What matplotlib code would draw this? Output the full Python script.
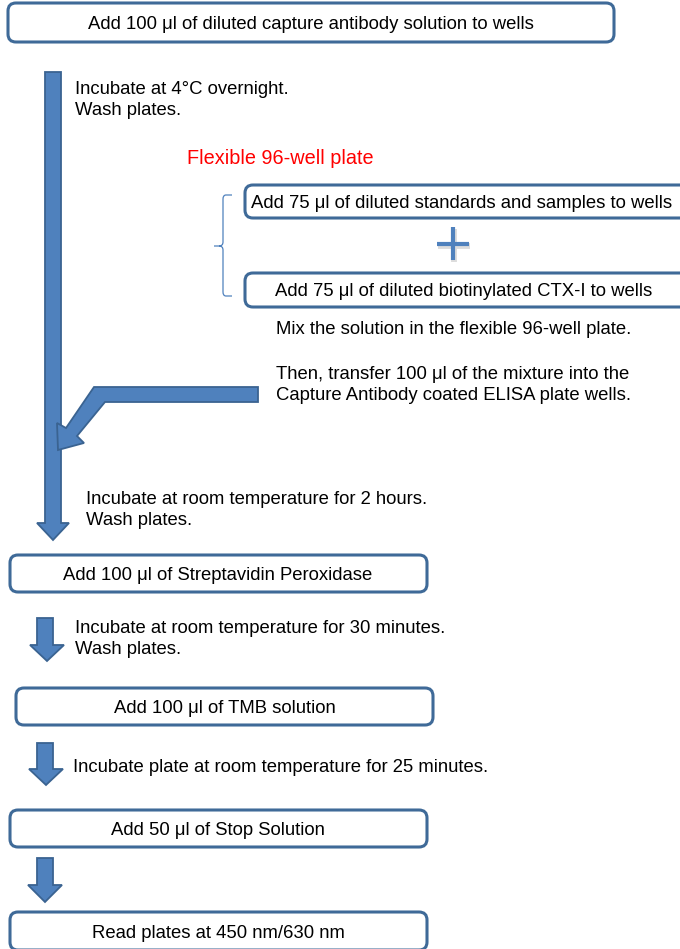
import matplotlib
matplotlib.use("Agg")
import matplotlib.pyplot as plt
from matplotlib.patches import FancyBboxPatch, Polygon
from matplotlib.patches import PathPatch
from matplotlib.path import Path

plt.rcParams['font.family'] = ['Liberation Sans', 'DejaVu Sans']

# ---- content ----
box_texts = [
    "Add 100 \u03bcl of diluted capture antibody solution to wells",
    "Add 75 \u03bcl of diluted standards and samples to wells",
    "Add 75 \u03bcl of diluted biotinylated CTX-I to wells",
    "Add 100 \u03bcl of Streptavidin Peroxidase",
    "Add 100 \u03bcl of TMB solution",
    "Add 50 \u03bcl of Stop Solution",
    "Read plates at 450 nm/630 nm",
]
# box layout: (left, top, right, bottom, text center x)
box_geom = [
    (8, 3, 614, 42, 311),
    (245, 185, 700, 218, 462),
    (245, 273, 700, 307, 464),
    (10, 555, 427, 592, 218),
    (16, 688, 433, 725, 225),
    (10, 810, 427, 847, 218),
    (10, 912, 427, 950, 218),
]
step_texts = [
    ("Incubate at 4\u00b0C overnight.\nWash plates.", 75, 100),
    ("Mix the solution in the flexible 96-well plate.", 276, 330),
    ("Then, transfer 100 \u03bcl of the mixture into the\nCapture Antibody coated ELISA plate wells.", 276, 385),
    ("Incubate at room temperature for 2 hours.\nWash plates.", 86, 510),
    ("Incubate at room temperature for 30 minutes.\nWash plates.", 75, 639),
    ("Incubate plate at room temperature for 25 minutes.", 73, 767),
]
red_title = "Flexible 96-well plate"

BOX_EDGE = "#3F6A98"
ARROW_FILL = "#4F81BD"
ARROW_EDGE = "#3A6391"
FS = 13.3

fig = plt.figure(figsize=(6.8, 9.49), dpi=100)
ax = fig.add_axes([0, 0, 1, 1])
ax.set_xlim(0, 680)
ax.set_ylim(949, 0)
ax.axis('off')

for (l, t, r, b, cx), txt in zip(box_geom, box_texts):
    p = FancyBboxPatch((l, t), r - l, b - t,
                       boxstyle="round,pad=0,rounding_size=8",
                       fc="white", ec=BOX_EDGE, lw=2.2, zorder=3)
    ax.add_patch(p)
    ax.text(cx, (t + b) / 2 + 2, txt, ha='center', va='center',
            fontsize=FS, color='black', zorder=4)

for txt, x, y in step_texts:
    ax.text(x, y, txt, ha='left', va='center', fontsize=FS,
            color='black', linespacing=1.38, zorder=4)

ax.text(187, 158, red_title, ha='left', va='center', fontsize=14.3,
        color='#FF0000', zorder=4)


def down_arrow(xl, xr, top, head_y, hl, hr, tip):
    cx = (hl + hr) / 2
    pts = [(xl, top), (xr, top), (xr, head_y), (hr, head_y), (cx, tip),
           (hl, head_y), (xl, head_y)]
    ax.add_patch(Polygon(pts, closed=True, fc=ARROW_FILL, ec=ARROW_EDGE,
                         lw=1.3, joinstyle='miter', zorder=2))


# main long arrow
down_arrow(45, 61, 72, 523, 37, 69, 540)
# small arrows
down_arrow(37, 53, 618, 645, 30, 64, 661)
down_arrow(37, 53, 743, 769, 29, 63, 785)
down_arrow(37, 53, 858, 885, 28, 62, 902)

# bent arrow
bent = [(258, 387), (258, 402), (105, 402), (77, 436), (84, 443), (58, 450),
        (57, 423), (66, 428), (94, 387)]
ax.add_patch(Polygon(bent, closed=True, fc=ARROW_FILL, ec=ARROW_EDGE,
                     lw=1.3, joinstyle='miter', zorder=2.5))

# bracket
verts = [(232, 195), (226, 195), (223, 195), (223, 199),
         (223, 242), (223, 246), (219, 246),
         (214, 246),
         (219, 246), (223, 246), (223, 250),
         (223, 292), (223, 296), (226, 296), (232, 296)]
codes = [Path.MOVETO, Path.LINETO, Path.CURVE3, Path.CURVE3,
         Path.LINETO, Path.CURVE3, Path.CURVE3,
         Path.LINETO,
         Path.MOVETO, Path.CURVE3, Path.CURVE3,
         Path.LINETO, Path.CURVE3, Path.CURVE3, Path.LINETO]
ax.add_patch(PathPatch(Path(verts, codes), fc='none', ec=ARROW_FILL, lw=0.9, zorder=2))

# plus sign with soft shadow
for dx, dy, c, w in [(1.0, 2.0, '#dcdcdc', 4.2), (0, 0, ARROW_FILL, 3.0)]:
    ax.plot([437 + dx, 469 + dx], [244 + dy, 244 + dy], color=c, lw=w,
            solid_capstyle='butt', zorder=3)
    ax.plot([453 + dx, 453 + dx], [227 + dy, 260 + dy], color=c, lw=w,
            solid_capstyle='butt', zorder=3)

fig.savefig("out.png", dpi=100)
